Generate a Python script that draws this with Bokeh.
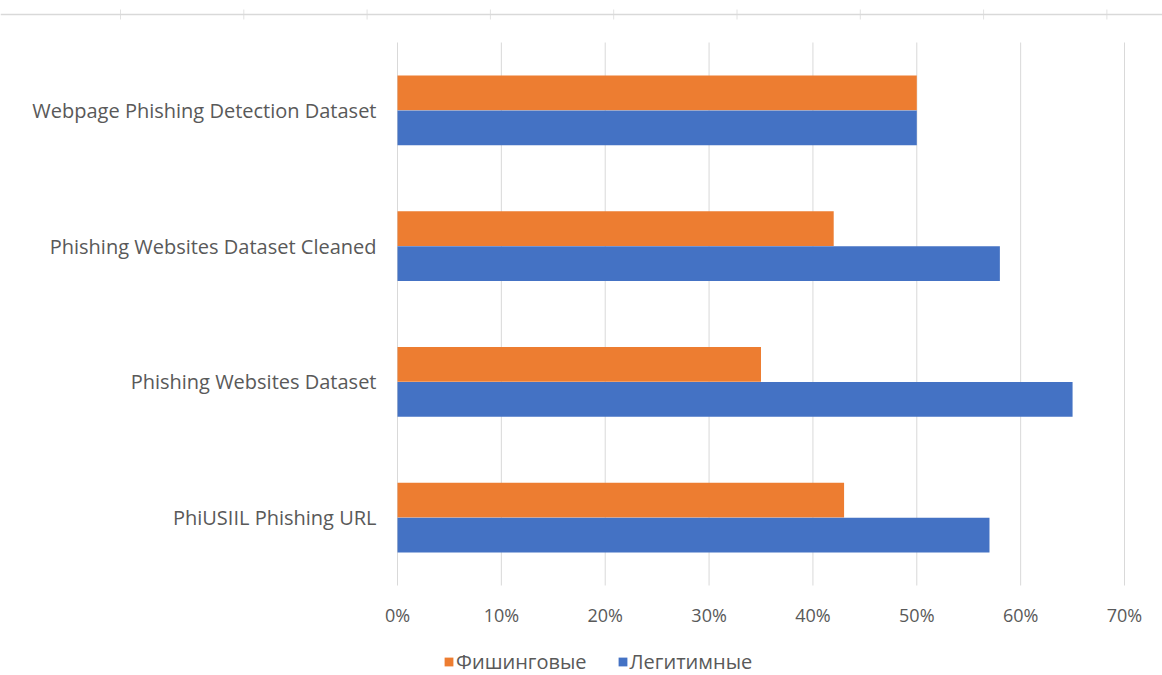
from bokeh.plotting import figure
from bokeh.models import ColumnDataSource, Range1d, Span, Legend, LegendItem
from bokeh.core.properties import value
from bokeh.transform import dodge
from bokeh.embed import file_html
from bokeh.resources import INLINE

# Dataset names, listed bottom to top
datasets = [
    "PhiUSIIL Phishing URL",
    "Phishing Websites Dataset",
    "Phishing Websites Dataset Cleaned",
    "Webpage Phishing Detection Dataset",
]
# Share of each class in every dataset, percent
phishing_pct = [43, 35, 42, 50]
legit_pct = [57, 65, 58, 50]
x_ticks_pct = [0, 10, 20, 30, 40, 50, 60, 70]
x_tick_labels = ["0%", "10%", "20%", "30%", "40%", "50%", "60%", "70%"]
strip_ticks = [1, 2, 3, 4, 5, 6, 7, 8, 9]

series_names = ["Фишинговые", "Легитимные"]
ORANGE = "#ED7D31"
BLUE = "#4472C4"
TEXT = "#595959"
GRID = "#D9D9D9"
FONT = "Open Sans"

n = len(datasets)
source = ColumnDataSource(dict(
    name=datasets,
    y=list(range(n)),
    phishing=[v / 100 for v in phishing_pct],
    legit=[v / 100 for v in legit_pct],
))
ticks = ColumnDataSource(dict(
    t=[v / 100 for v in x_ticks_pct],
    label=x_tick_labels,
))

W, H = 1162, 675
TOP = 42          # top of the bar area, px
BOTTOM = 585      # bottom of the bar area, px
STRIP = 14        # ruled strip along the page top, px
# the frame spans the whole page; 0% sits 397 px in, 70% at 1124 px
px_per_x = (1124 - 397) / 0.7
px_per_y = (BOTTOM - TOP) / n
y_lo = -0.5 - (H - BOTTOM) / px_per_y
y_hi = n - 0.5 + TOP / px_per_y
strip_y = n - 0.5 + (TOP - STRIP) / px_per_y
tick_half = 5 / px_per_y

p = figure(width=W, height=H, output_backend="svg", toolbar_location=None,
           x_range=Range1d(-397 / px_per_x, 0.7 + (W - 1124) / px_per_x),
           y_range=Range1d(y_lo, y_hi),
           x_axis_location=None, y_axis_location=None,
           min_border=0, outline_line_color=None)
p.xgrid.visible = False
p.ygrid.visible = False

# faint ruled strip along the top of the page
p.extra_x_ranges = {"strip": Range1d(1 - 120 / 123.3, 1 + (W - 120) / 123.3)}
p.add_layout(Span(location=strip_y, dimension="width",
                  line_color=GRID, line_width=1.5))
p.segment(x0=strip_ticks, x1=strip_ticks,
          y0=strip_y - tick_half, y1=strip_y + tick_half,
          x_range_name="strip", line_color="#E2E2E2", line_width=1)

# vertical gridlines over the bar area
p.segment(x0="t", x1="t", y0=-0.5, y1=n - 0.5, source=ticks,
          line_color=GRID, line_width=1)

r_ph = p.hbar(y=dodge("y", 0.129), right="phishing", left=0, height=0.257,
              source=source, fill_color=ORANGE, line_color=None)
r_lg = p.hbar(y=dodge("y", -0.129), right="legit", left=0, height=0.257,
              source=source, fill_color=BLUE, line_color=None)

# category labels, right-aligned just left of the 0% line
p.text(x=0, y="y", text="name", source=source, x_offset=-21,
       text_align="right", text_baseline="middle",
       text_font=value(FONT), text_font_size=value("20px"), text_color=TEXT)

# percentage labels under the gridlines
p.text(x="t", y=-0.5, text="label", source=ticks, y_offset=29,
       text_align="center", text_baseline="middle",
       text_font=value(FONT), text_font_size=value("18px"), text_color=TEXT)

legend = Legend(items=[LegendItem(label=series_names[0], renderers=[r_ph]),
                       LegendItem(label=series_names[1], renderers=[r_lg])],
                orientation="horizontal", location=(443, 0),
                glyph_width=11, glyph_height=11, spacing=30,
                label_text_font=FONT, label_text_font_size="20px",
                label_text_color=TEXT, label_standoff=2,
                border_line_color=None, background_fill_alpha=0,
                padding=0, margin=0)
p.add_layout(legend)

open("out.html", "w").write(file_html(p, INLINE))
